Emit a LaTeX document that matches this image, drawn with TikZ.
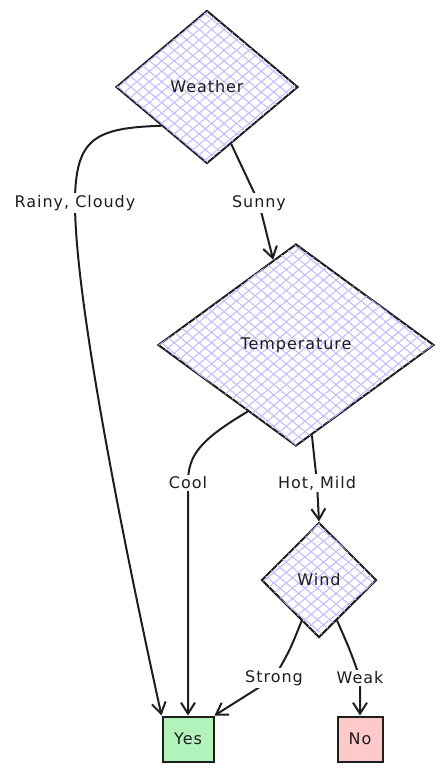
\documentclass[tikz,border=0pt]{standalone}
\usepackage{fontspec}
\setmainfont{DejaVu Sans}[LetterSpace=6]
\usetikzlibrary{shapes.geometric,arrows.meta,patterns.meta}
\definecolor{ink}{RGB}{30,30,30}
\definecolor{hatch}{RGB}{196,184,255}
\definecolor{yesgreen}{RGB}{178,242,187}
\definecolor{nored}{RGB}{255,201,201}
\begin{document}
\begin{tikzpicture}[x=1pt,y=-1pt,
  every node/.style={font=\fontsize{16}{19}\selectfont,text=ink},
  decision/.style={diamond,draw=ink,line width=2pt,fill=white,inner sep=0pt,
    postaction={pattern={Lines[angle=40,distance=8pt,line width=1pt]},pattern color=hatch},
    postaction={pattern={Lines[angle=-40,distance=8pt,line width=1pt]},pattern color=hatch}},
  leaf/.style={rectangle,draw=ink,line width=2pt,minimum height=45pt,inner sep=0pt},
  flow/.style={draw=ink,line width=2pt,-{Straight Barb[length=11pt,width=14pt]}},
  lbl/.style={fill=white,inner sep=2pt}]
  \useasboundingbox (0,0) rectangle (444,771);
  % decisions
  \node[decision,minimum width=182pt,minimum height=153pt] (weather) at (207,87) {Weather};
  \node[decision,minimum width=276pt,minimum height=202pt] (temp) at (296,345) {Temperature};
  \node[decision,minimum width=115pt,minimum height=115pt] (wind) at (319,580) {Wind};
  % outcomes
  \node[leaf,fill=yesgreen,minimum width=51pt] (yes) at (188,739) {Yes};
  \node[leaf,fill=nored,minimum width=45pt] (no) at (360,739) {No};
  % edges
  \draw[flow] (weather.south west) .. controls (95,128) and (75,138) .. (75,203)
    node[lbl] {Rainy, Cloudy} .. controls (75,320) and (145,640) .. (yes.north west);
  \draw[flow] (weather.-67) -- (259,203) node[lbl] {Sunny} -- (temp.105);
  \draw[flow] (temp.-126) .. controls (200,440) and (188,455) .. (188,483)
    node[lbl] {Cool} -- (yes.north);
  \draw[flow] (temp.-80) -- (317,483) node[lbl] {Hot, Mild} -- (wind.north);
  \draw[flow] (wind.-113) .. controls (290,650) .. (274,678) node[lbl] {Strong} -- (yes.north east);
  \draw[flow] (wind.-66) .. controls (350,650) .. (360,678) node[lbl] {Weak} -- (no.north);
\end{tikzpicture}
\end{document}
